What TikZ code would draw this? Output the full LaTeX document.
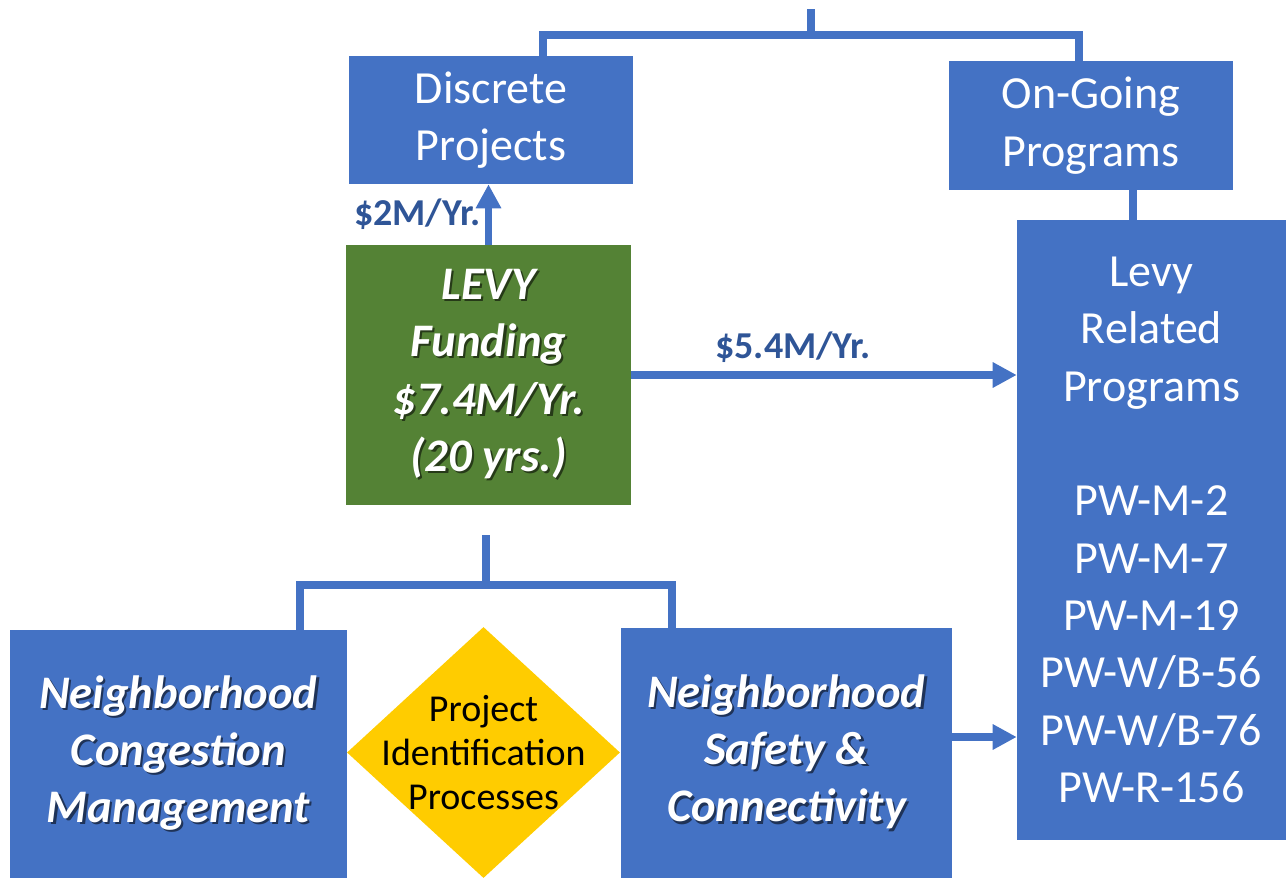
\documentclass[tikz,border=0pt]{standalone}
\usepackage{fontspec}
\setmainfont{Carlito}
\usepackage{xcolor}
\usepackage{tikz}
\usetikzlibrary{shapes,arrows,positioning,calc,arrows.meta}

\definecolor{boxblue}{HTML}{4472C4}
\definecolor{levygreen}{HTML}{548235}
\definecolor{procgold}{HTML}{FFCC00}
\definecolor{amtblue}{HTML}{2F5597}
\newcommand{\shtxt}[2][boxblue!45!black]{\leavevmode\rlap{\kern1.6pt\raisebox{-1.6pt}{\textcolor{#1}{#2}}}#2}

\begin{document}
\begin{tikzpicture}[x=0.75pt, y=-0.75pt, >={Triangle[length=18pt,width=18pt]},
    blk/.style={fill=boxblue, text=white, inner sep=0pt, align=center},
    plain/.style={font=\fontsize{34.5}{43}\selectfont},
    bolder/.style={font=\fontsize{35}{43}\selectfont\bfseries\itshape},
    gem/.style={diamond, fill=procgold, inner sep=0pt, minimum width=204.75pt, minimum height=188.25pt},
    conn/.style={draw=boxblue, line width=5.6pt},
    amt/.style={text=amtblue, font=\fontsize{28.5}{33}\selectfont\bfseries}]
    \useasboundingbox (0,0) rectangle (1286,878);

    \node[blk, plain, minimum width=213pt, minimum height=96pt] (disc) at (491,120) {Discrete\\Projects};
    \node[blk, plain, minimum width=213pt, minimum height=96.75pt] (ongo) at (1091,125.5) {On-Going\\Programs};
    \node[blk, bolder, fill=levygreen, minimum width=213.75pt, minimum height=195pt] (fund) at (488.5,375)
        {\shtxt[levygreen!45!black]{LEVY}\\\shtxt[levygreen!45!black]{Funding}\\\shtxt[levygreen!45!black]{\$7.4M/Yr.}\\\shtxt[levygreen!45!black]{(20 yrs.)}};
    \node[blk, plain, minimum width=201.75pt, minimum height=465pt] (prog) at (1151.5,530)
        {Levy\\Related\\Programs\\[43pt]PW-M-2\\PW-M-7\\PW-M-19\\PW-W/B-56\\PW-W/B-76\\PW-R-156};
    \node[blk, bolder, minimum width=252.75pt, minimum height=186pt] (cong) at (178.5,754)
        {\shtxt{Neighborhood}\\\shtxt{Congestion}\\\shtxt{Management}};
    \node[blk, bolder, minimum width=248.25pt, minimum height=187.5pt] (safety) at (786.5,753)
        {\shtxt{Neighborhood}\\\shtxt{Safety \&}\\\shtxt{Connectivity}};
    \node[gem] (ident) at (483.5,752.5) {};
    \node[align=center, font=\fontsize{28.5}{33}\selectfont] (identtxt) at (ident) {Project\\Identification\\Processes};

    \coordinate (topstub) at (811,9);
    \coordinate (topfork) at (811,35);
    \coordinate (botstub) at (486,535);
    \coordinate (botfork) at (486,585);

    \draw[conn] ($(disc.north)+(52,0)$) |- (topfork) -| ($(ongo.north)+(-12,0)$);
    \draw[conn] (topstub) -- (topfork);
    \draw[conn] ($(ongo.south)+(42,0)$) coordinate (oc) -- (oc |- prog.north);
    \draw[conn, ->] (fund.north) -- (fund.north |- disc.south) node[midway, left, amt] (amttwo) {\$2M/Yr.};
    \draw[conn, ->] (fund.east) -- (fund.east -| prog.west) node[pos=0.42, above=3pt, amt] (amtfive) {\$5.4M/Yr.};
    \draw[conn] ($(cong.north)+(121.5,0)$) |- (botfork) -| ($(safety.north)+(-114.5,0)$);
    \draw[conn] (botstub) -- (botfork);
    \draw[conn, ->] ($(safety.east)+(0,-16)$) coordinate (sa) -- (sa -| prog.west);
\end{tikzpicture}
\end{document}
